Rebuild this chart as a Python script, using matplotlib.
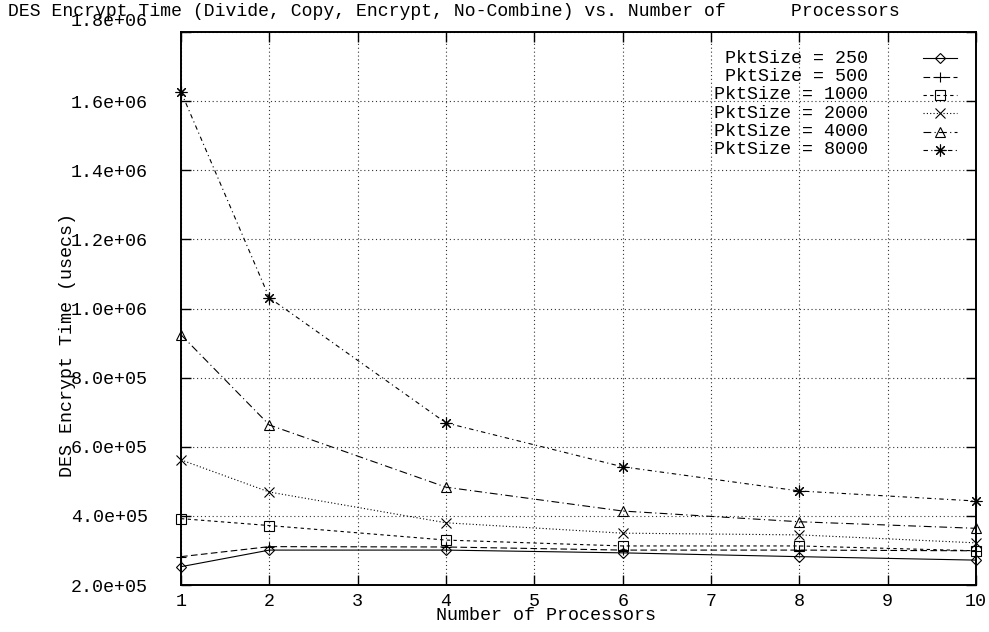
import matplotlib
matplotlib.use("Agg")
import matplotlib.pyplot as plt
from matplotlib.transforms import ScaledTranslation

plt.rcParams["font.family"] = ["Liberation Mono", "DejaVu Sans Mono"]

# processors on the x axis
processors = [1, 2, 4, 6, 8, 10]

# DES encrypt time in usecs, one list per packet size
pkt_250 = [2.53e5, 3.01e5, 3.01e5, 2.93e5, 2.82e5, 2.72e5]
pkt_500 = [2.82e5, 3.11e5, 3.10e5, 3.01e5, 3.01e5, 2.99e5]
pkt_1000 = [3.92e5, 3.72e5, 3.30e5, 3.13e5, 3.13e5, 2.99e5]
pkt_2000 = [5.62e5, 4.69e5, 3.80e5, 3.50e5, 3.45e5, 3.22e5]
pkt_4000 = [9.24e5, 6.63e5, 4.83e5, 4.14e5, 3.83e5, 3.64e5]
pkt_8000 = [1.627e6, 1.031e6, 6.69e5, 5.42e5, 4.72e5, 4.43e5]

series_labels = ["PktSize = 250", "PktSize = 500", "PktSize = 1000",
                 "PktSize = 2000", "PktSize = 4000", "PktSize = 8000"]
series_values = [pkt_250, pkt_500, pkt_1000, pkt_2000, pkt_4000, pkt_8000]

x_ticks = list(range(1, 11))
y_ticks = [2.0e5, 4.0e5, 6.0e5, 8.0e5, 1.0e6, 1.2e6, 1.4e6, 1.6e6, 1.8e6]

# gnuplot-ish line types
styles = [
    dict(ls="-", marker="D", ms=5),
    dict(ls=(0, (6, 3)), marker="+", ms=7.5),
    dict(ls=(0, (3, 3)), marker="s", ms=6.5),
    dict(ls=(0, (1, 2)), marker="x", ms=6.5),
    dict(ls=(0, (7, 3, 1, 3)), marker="^", ms=6.5),
    dict(ls=(0, (4, 3, 1, 3)), marker=(8, 2, 0), ms=8.5),
]

fig = plt.figure(figsize=(9.89, 6.32), dpi=100)
ax = fig.add_axes([181 / 989, 1 - 585 / 632, 795 / 989, 553 / 632])

for vals, st in zip(series_values, styles):
    ax.plot(processors, vals, color="black", lw=0.8, ls=st["ls"],
            marker=st["marker"], ms=st["ms"], mfc="none", mec="black",
            mew=0.8, clip_on=False, zorder=3)

ax.set_xlim(1, 10)
ax.set_ylim(2.0e5, 1.8e6)
ax.set_xticks(x_ticks)
ax.set_yticks(y_ticks)
ax.set_yticklabels([f"{v:.1e}" for v in y_ticks])
ax.tick_params(direction="in", length=7, width=1, top=True, right=True,
               labelsize=13.2, colors="black")
ax.tick_params(axis="y", pad=24)
ax.tick_params(axis="x", pad=6)
for s in ax.spines.values():
    s.set_linewidth(1.4)

ax.grid(True, color="#333333", lw=0.8, ls=(0, (1, 2.5)))

# top y label sits above the frame like in the original
top_lbl = ax.get_yticklabels()[-1]
top_lbl.set_transform(top_lbl.get_transform()
                      + ScaledTranslation(0, 12 / 100, fig.dpi_scale_trans))

ax.set_ylabel("DES Encrypt Time (usecs)", fontsize=13.2)
ax.yaxis.set_label_coords((76 - 181) / 795, 1 - (345 - 32) / 553)
ax.set_xlabel("Number of Processors", fontsize=13.2, va="top")
ax.xaxis.set_label_coords((546 - 181) / 795, -(607 - 585) / 553)

fig.text(8 / 989, 1 - 3 / 632,
         "DES Encrypt Time (Divide, Copy, Encrypt, No-Combine) vs. Number of      Processors",
         fontsize=13.05, ha="left", va="top")

# hand-drawn key, gnuplot style (text right aligned, sample on the right)
row_y0, row_dy = 58.3, 18.3
for i, (lab, st) in enumerate(zip(series_labels, styles)):
    yy = 1 - (row_y0 + i * row_dy - 32) / 553
    ax.text((868 - 181) / 795, yy, lab, transform=ax.transAxes,
            ha="right", va="center", fontsize=13.2)
    ax.plot([(923 - 181) / 795, (957 - 181) / 795], [yy, yy],
            transform=ax.transAxes, color="black", lw=0.8, ls=st["ls"],
            clip_on=False)
    ax.plot([(940 - 181) / 795], [yy], transform=ax.transAxes,
            marker=st["marker"], ms=st["ms"], mfc="none", mec="black",
            mew=0.8, clip_on=False)

fig.savefig("out.png", dpi=100)
